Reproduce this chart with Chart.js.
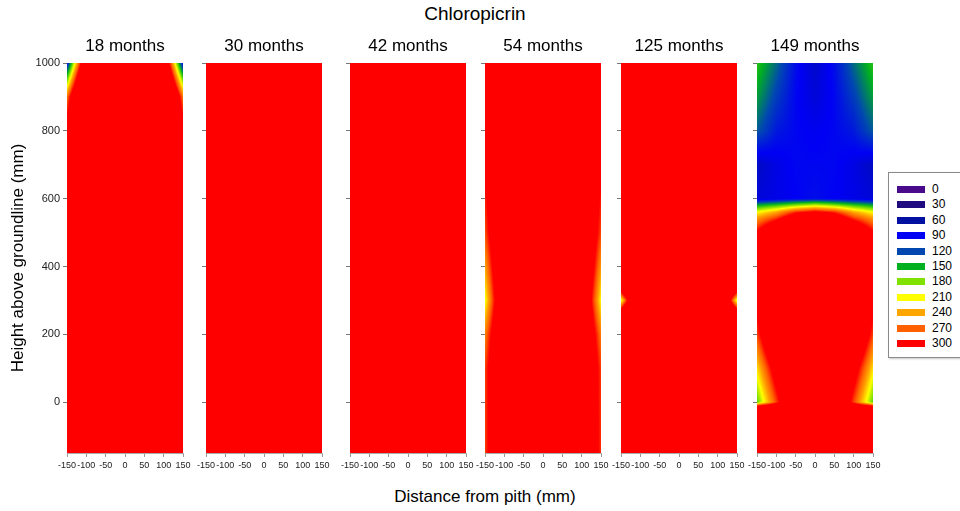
<!DOCTYPE html>
<html lang="en">
<head>
<meta charset="UTF-8">
<title>Chloropicrin</title>
<script src="https://cdn.jsdelivr.net/npm/chart.js"></script>
<style>
    body { margin: 0; width: 960px; height: 511px; overflow: hidden; background: #fff; position: relative;
           font-family: "Liberation Sans", Arial, sans-serif; color: #000; }
    canvas { position: absolute; top: 0; }
    #title { position: absolute; left: 0; width: 950px; top: 3px; text-align: center; font-size: 19px; }
    #xtitle { position: absolute; left: 0; width: 970px; top: 487px; text-align: center; font-size: 17px; }
    #legend { position: absolute; left: 888px; top: 172px; width: 90px; height: 184px; border: 1px solid #8a8a8a;
              box-shadow: 1px 1px 2px #c8c8c8; background: #fff; }
    .item { position: absolute; left: 8px; height: 14px; font-size: 12px; line-height: 14px; }
    .sw { position: absolute; left: 0; top: 4px; width: 28px; height: 7px; }
    .lab { position: absolute; left: 35px; top: 0; }
</style>
</head>
<body>
<div id="title">Chloropicrin</div>
<div id="xtitle">Distance from pith (mm)</div>
<div id="legend"></div>
<script>
// contour levels shown in the legend
const legendValues = [0, 30, 60, 90, 120, 150, 180, 210, 240, 270, 300];
const legendColors = ['#4a0a8c', '#200a80', '#0010a0', '#0000f4', '#0048b0', '#00b020',
                      '#80e000', '#ffff00', '#ffa500', '#ff6000', '#ff0000'];

const months = ['18 months', '30 months', '42 months', '54 months', '125 months', '149 months'];
const xTicks = [-150, -100, -50, 0, 50, 100, 150];
const yTicks = [0, 200, 400, 600, 800, 1000];

// sample positions across the section (mm from pith)
const xs = [-150, -100, -50, 0, 50, 100, 150];

// heights (mm) of the sample rows for each panel, bottom to top
const ys18 = [-150, 800, 900, 1000];
const ys30 = [-150, 1000];
const ys42 = [-150, 1000];
const ys54 = [-150, 100, 200, 300, 400, 500, 600, 700, 1000];
const ys125 = [-150, 270, 300, 330, 1000];
const ys149 = [-150, -20, 0, 100, 200, 300, 450, 500, 540, 560, 580, 600, 700, 800, 900, 1000];

// retention values, one row per height, one column per x position
const v18 = [
    [400, 400, 400, 400, 400, 400, 400],
    [330, 450, 450, 450, 450, 450, 330],
    [260, 500, 450, 450, 450, 500, 260],
    [90, 380, 450, 450, 450, 380, 90]
];
const v30 = [
    [300, 300, 300, 300, 300, 300, 300],
    [300, 300, 300, 300, 300, 300, 300]
];
const v42 = [
    [300, 300, 300, 300, 300, 300, 300],
    [300, 300, 300, 300, 300, 300, 300]
];
const v54 = [
    [280, 400, 450, 450, 450, 400, 285],
    [280, 400, 450, 450, 450, 400, 282],
    [255, 400, 450, 450, 450, 400, 258],
    [205, 390, 450, 450, 450, 390, 210],
    [240, 400, 450, 450, 450, 400, 245],
    [275, 400, 450, 450, 450, 400, 278],
    [290, 400, 450, 450, 450, 400, 292],
    [320, 450, 450, 450, 450, 450, 320],
    [320, 450, 450, 450, 450, 450, 320]
];
const v125 = [
    [320, 500, 500, 500, 500, 500, 320],
    [320, 500, 500, 500, 500, 500, 320],
    [200, 500, 500, 500, 500, 500, 200],
    [320, 500, 500, 500, 500, 500, 320],
    [320, 500, 500, 500, 500, 500, 320]
];
const v149 = [
    [400, 400, 400, 400, 400, 400, 400],
    [400, 400, 400, 400, 400, 400, 400],
    [170, 280, 400, 450, 400, 280, 170],
    [220, 330, 450, 450, 450, 330, 220],
    [280, 400, 450, 450, 450, 400, 280],
    [320, 420, 450, 450, 450, 420, 320],
    [330, 420, 450, 450, 450, 420, 330],
    [305, 380, 450, 450, 450, 380, 305],
    [250, 290, 350, 400, 350, 290, 250],
    [210, 240, 290, 310, 290, 240, 210],
    [150, 165, 185, 200, 185, 165, 150],
    [80, 85, 90, 95, 90, 85, 80],
    [72, 84, 92, 92, 92, 84, 72],
    [125, 100, 92, 88, 92, 100, 125],
    [145, 115, 92, 80, 92, 115, 145],
    [160, 130, 95, 75, 95, 130, 160]
];

const panelYs = [ys18, ys30, ys42, ys54, ys125, ys149];
const panelValues = [v18, v30, v42, v54, v125, v149];

// layout: left edge of each plot area
const panelLeft = [67, 206, 350, 485, 621, 757];
const plotWidth = 116;
const font = '"Liberation Sans", Arial, sans-serif';

// legend
const legendBox = document.getElementById('legend');
legendValues.forEach((v, i) => {
    const item = document.createElement('div');
    item.className = 'item';
    item.style.top = (9 + i * 15.4) + 'px';
    item.innerHTML = '<div class="sw" style="background:' + legendColors[i] + '"></div><div class="lab">' + v + '</div>';
    legendBox.appendChild(item);
});

const stopRgb = legendColors.map(c => [parseInt(c.slice(1, 3), 16), parseInt(c.slice(3, 5), 16), parseInt(c.slice(5, 7), 16)]);

function locate(arr, v) {
    if (v <= arr[0]) return [0, 0];
    for (let i = 0; i < arr.length - 1; i++) {
        if (v <= arr[i + 1]) return [i, (v - arr[i]) / (arr[i + 1] - arr[i])];
    }
    return [arr.length - 2, 1];
}

function colorFor(v) {
    const [k, t] = locate(legendValues, v);
    const a = stopRgb[k], b = stopRgb[k + 1];
    return [a[0] + (b[0] - a[0]) * t, a[1] + (b[1] - a[1]) * t, a[2] + (b[2] - a[2]) * t];
}

// paints the interpolated field inside the plot area, using the chart's own scales
const heatmap = {
    id: 'heatmap',
    beforeDatasetsDraw(chart) {
        const ds = chart.data.datasets[0];
        const { ctx, chartArea: a, scales } = chart;
        const left = Math.round(a.left), top = Math.round(a.top);
        const w = Math.round(a.right) - left, h = Math.round(a.bottom) - top;
        const img = ctx.createImageData(w, h);
        const cols = [], rows = [];
        for (let px = 0; px < w; px++) cols.push(locate(xs, scales.x.getValueForPixel(left + px + 0.5)));
        for (let py = 0; py < h; py++) rows.push(locate(ds.ys, scales.y.getValueForPixel(top + py + 0.5)));
        const g = ds.values;
        for (let py = 0; py < h; py++) {
            const [i, ty] = rows[py];
            for (let px = 0; px < w; px++) {
                const [j, tx] = cols[px];
                const lo = g[i][j] * (1 - tx) + g[i][j + 1] * tx;
                const hi = g[i + 1][j] * (1 - tx) + g[i + 1][j + 1] * tx;
                const c = colorFor(lo * (1 - ty) + hi * ty);
                const o = (py * w + px) * 4;
                img.data[o] = c[0]; img.data[o + 1] = c[1]; img.data[o + 2] = c[2]; img.data[o + 3] = 255;
            }
        }
        ctx.putImageData(img, left, top);
    }
};

months.forEach((m, p) => {
    const yw = p === 0 ? 67 : 14;
    const padR = 12;
    const canvas = document.createElement('canvas');
    canvas.width = yw + plotWidth + padR;
    canvas.height = 511;
    canvas.style.left = (panelLeft[p] - yw) + 'px';
    document.body.appendChild(canvas);

    const ys = panelYs[p], values = panelValues[p];
    const points = [];
    ys.forEach((y, i) => xs.forEach((x, j) => points.push({ x: x, y: y, v: values[i][j] })));

    new Chart(canvas, {
        type: 'scatter',
        data: { datasets: [{ data: points, ys: ys, values: values, pointRadius: 0 }] },
        options: {
            responsive: false,
            animation: false,
            layout: { padding: { right: padR } },
            plugins: {
                legend: { display: false },
                tooltip: { enabled: false },
                title: {
                    display: true, text: m, fullSize: false, color: '#000',
                    font: { family: font, size: 17, weight: 'normal' },
                    padding: { top: 36, bottom: 6.6 }
                }
            },
            scales: {
                x: {
                    type: 'linear', min: -150, max: 150,
                    afterBuildTicks: s => { s.ticks = xTicks.map(v => ({ value: v })); },
                    afterFit: s => { s.height = 58; },
                    ticks: { font: { family: font, size: 9 }, color: '#222', padding: 3, maxRotation: 0,
                             autoSkip: false, callback: v => String(v) },
                    grid: { drawOnChartArea: false, tickLength: 4, color: '#999' },
                    border: { color: '#aaa' }
                },
                y: {
                    type: 'linear', min: -150, max: 1000,
                    afterBuildTicks: s => { s.ticks = yTicks.map(v => ({ value: v })); },
                    afterFit: s => { s.width = yw; },
                    ticks: { display: p === 0, font: { family: font, size: 11 }, color: '#222', padding: 3,
                             callback: v => String(v) },
                    grid: { drawOnChartArea: false, tickLength: 4, color: '#777' },
                    border: { color: '#aaa' },
                    title: {
                        display: p === 0, text: 'Height above groundline (mm)', color: '#000',
                        font: { family: font, size: 17 }, padding: { top: 8 }
                    }
                }
            }
        },
        plugins: [heatmap]
    });
});
</script>
</body>
</html>
